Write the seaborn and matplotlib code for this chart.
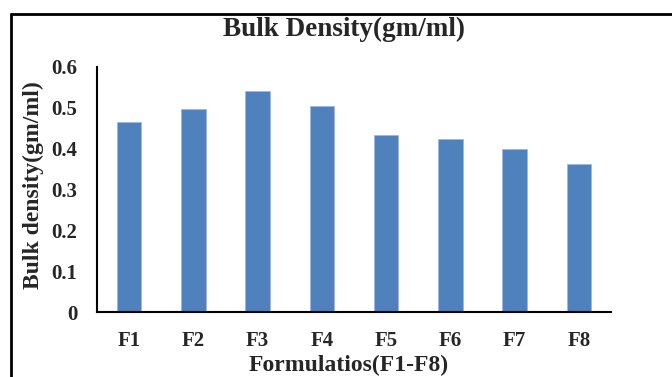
import matplotlib
matplotlib.use("Agg")
import matplotlib.pyplot as plt
from matplotlib.lines import Line2D
from matplotlib.ticker import FixedLocator, FuncFormatter
import seaborn as sns
import pandas as pd

formulations = ["F1", "F2", "F3", "F4", "F5", "F6", "F7", "F8"]
bulk_density = [0.466, 0.497, 0.540, 0.505, 0.433, 0.423, 0.399, 0.362]
y_ticks = [0, 0.1, 0.2, 0.3, 0.4, 0.5, 0.6]

df = pd.DataFrame({"Formulation": formulations, "Bulk density": bulk_density})

sns.set_style("white")
plt.rcParams["font.family"] = ["Liberation Serif", "DejaVu Serif"]
plt.rcParams["font.weight"] = "bold"

fig = plt.figure(figsize=(6.72, 3.77), dpi=100)
ax = fig.add_axes([97 / 672, 1 - 312 / 377, (611 - 97) / 672, (312 - 67) / 377])

sns.barplot(data=df, x="Formulation", y="Bulk density", color="#4F81BD",
            saturation=1, width=0.38, edgecolor="#9DB9DD", linewidth=0.6, ax=ax)

ax.set_xlim(-0.5, len(formulations) - 0.5)
ax.set_ylim(0, 0.6)
ax.set_yticks(y_ticks)
ax.yaxis.set_major_formatter(FuncFormatter(lambda v, p: "0" if v == 0 else f"{v:.1f}"))

# category boundary ticks on the x axis
ax.xaxis.set_minor_locator(FixedLocator([i - 0.5 for i in range(len(formulations) + 1)]))
ax.tick_params(axis="x", which="major", length=0, pad=14, labelsize=15)
ax.tick_params(axis="x", which="minor", length=5, width=1.5, color="black", direction="out")
ax.tick_params(axis="y", which="major", length=5, width=1.5, color="black",
               direction="out", pad=9, labelsize=15)

for lbl in ax.get_xticklabels() + ax.get_yticklabels():
    lbl.set_fontweight("bold")

for side in ["top", "right"]:
    ax.spines[side].set_visible(False)
for side in ["left", "bottom"]:
    ax.spines[side].set_color("black")
    ax.spines[side].set_linewidth(1.5)

ax.set_xlabel("Formulatios(F1-F8)", fontsize=17, fontweight="bold")
ax.set_ylabel("Bulk density(gm/ml)", fontsize=17, fontweight="bold")
ax.xaxis.set_label_coords((349 - 97) / 514, (312 - 365) / 245)
ax.xaxis.label.set_va("center")
ax.yaxis.set_label_coords((33 - 97) / 514, (312 - 185) / 245)
ax.yaxis.label.set_rotation_mode("default")
ax.yaxis.label.set_va("center")
ax.yaxis.label.set_ha("center")

fig.text(344 / 672, 1 - 29 / 377, "Bulk Density(gm/ml)", ha="center", va="center",
         fontsize=19.5, fontweight="bold")

# outer chart frame
fig.add_artist(Line2D([11 / 672, 11 / 672], [0, 1 - 14 / 377], transform=fig.transFigure,
                      color="black", linewidth=2))
fig.add_artist(Line2D([11 / 672, 1], [1 - 14 / 377, 1 - 14 / 377], transform=fig.transFigure,
                      color="black", linewidth=2))

fig.savefig("out.png", dpi=100)
